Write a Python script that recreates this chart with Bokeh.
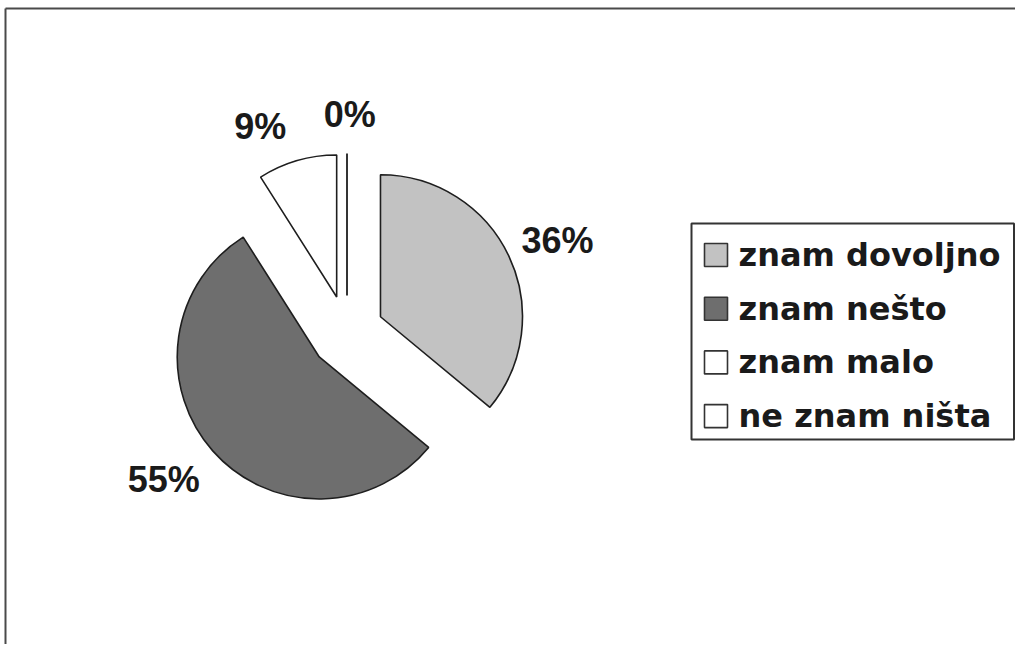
import math
from bokeh.plotting import figure
from bokeh.models import Range1d
from bokeh.embed import file_html
from bokeh.resources import INLINE
from bokeh.core.properties import value

# ---- data ----
categories = ["znam dovoljno", "znam nešto", "znam malo", "ne znam ništa"]
percent = [36, 55, 9, 0]
labels = ["36%", "55%", "9%", "0%"]
colors = ["#c2c2c2", "#6e6e6e", "#ffffff", "#ffffff"]

# ---- layout ----
W, H = 1015, 644


def sy(y):
    return H - y


p = figure(width=W, height=H, x_range=Range1d(0, W), y_range=Range1d(0, H),
           output_backend="svg", toolbar_location=None, min_border=0)
p.axis.visible = False
p.grid.visible = False
p.outline_line_color = None
p.background_fill_color = "white"
p.border_fill_color = "white"

# outer frame (top and left edges visible)
p.line([5, 5], [0, sy(8)], line_color="#4a4a4a", line_width=2)
p.line([5, W], [sy(8), sy(8)], line_color="#4a4a4a", line_width=2)

# pie geometry
cx, cy = 346.5, sy(332)
radius = 142
explode = 37
label_r = [230, 235, 224, 218]
label_turn = [-1.5, -2.6, 6.6, -0.7]

total = float(sum(percent))
cum = 0.0
lx, ly = [], []
for i, v in enumerate(percent):
    a0 = 90 - cum / total * 360.0
    a1 = 90 - (cum + v) / total * 360.0
    mid = math.radians((a0 + a1) / 2)
    ox = cx + explode * math.cos(mid)
    oy = cy + explode * math.sin(mid)
    if v > 0:
        p.wedge(x=[ox], y=[oy], radius=radius, radius_units="screen",
                start_angle=math.radians(a1), end_angle=math.radians(a0), direction="anticlock",
                fill_color=colors[i], line_color="#1e1e1e", line_width=1.6)
    else:
        ar = math.radians(a0)
        p.segment(x0=[ox], y0=[oy], x1=[ox + radius * math.cos(ar)], y1=[oy + radius * math.sin(ar)],
                  line_color="#1e1e1e", line_width=1.8)
    la = mid + math.radians(label_turn[i])
    lx.append(cx + label_r[i] * math.cos(la))
    ly.append(cy + label_r[i] * math.sin(la))
    cum += v

p.text(x=lx, y=ly, text=labels, text_align="center", text_baseline="middle",
       text_font=value("Liberation Sans"), text_font_style="bold", text_font_size="36px",
       text_color="#1a1a1a")

# legend
p.quad(left=[691], right=[W - 1.5], top=[sy(223)], bottom=[sy(439)],
       fill_color="white", line_color="#333333", line_width=2)
row0, step, sq = 243, 53.7, 23
sq_left = [704] * len(categories)
sq_right = [704 + sq] * len(categories)
sq_top = [sy(row0 + i * step) for i in range(len(categories))]
sq_bot = [sy(row0 + i * step + sq) for i in range(len(categories))]
sq_mid = [sy(row0 + i * step + sq / 2) for i in range(len(categories))]
p.quad(left=sq_left, right=sq_right, top=sq_top, bottom=sq_bot,
       fill_color=colors, line_color="#333333", line_width=1.6)
p.text(x=[738] * len(categories), y=sq_mid, text=categories, text_align="left",
       text_baseline="middle", text_font=value("DejaVu Sans"), text_font_style="bold",
       text_font_size="32px", text_color="#1a1a1a")

open("out.html", "w").write(file_html(p, INLINE))
